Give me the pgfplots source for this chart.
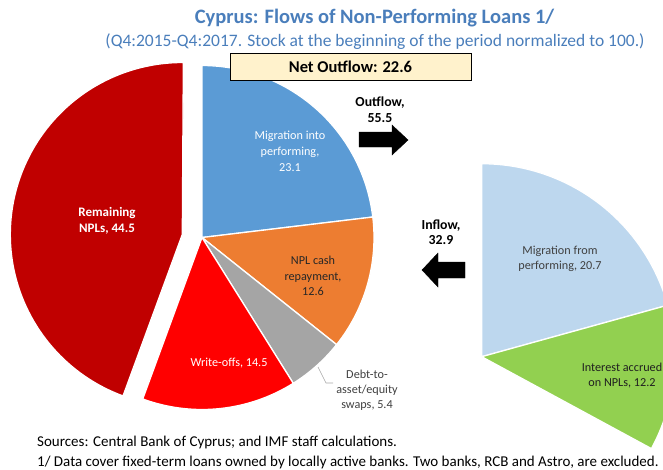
\documentclass[border=0pt]{standalone}
\usepackage{pgfplots}
\pgfplotsset{compat=1.18}
\usepackage{fontspec}
\setmainfont{Carlito}
\definecolor{titleblue}{HTML}{4A7EBB}
\definecolor{darkredslice}{HTML}{C00000}
\definecolor{brightred}{HTML}{FF0000}
\definecolor{greyslice}{HTML}{A5A5A5}
\definecolor{orangeslice}{HTML}{ED7D31}
\definecolor{blueslice}{HTML}{5B9BD5}
\definecolor{lightblueslice}{HTML}{BDD7EE}
\definecolor{greenslice}{HTML}{92D050}
\definecolor{boxfill}{HTML}{FFF2CC}
\definecolor{labelgrey}{HTML}{404040}
% #1 colour, #2 cx, #3 cy, #4 radius, #5 cumulative start (of 100), #6 value
\newcommand{\pieslice}[6]{%
  \addplot[draw=white, line width=1.3pt, line join=round, fill=#1, variable=\t, domain=0:1, samples=90]
  ({#2+#4*cos(90-3.6*(#5+#6*\t))}, {#3-#4*sin(90-3.6*(#5+#6*\t))}) -- (axis cs:#2,#3) -- cycle;
}
\begin{document}
\begin{tikzpicture}
\begin{axis}[scale only axis, width=663pt, height=469pt,
  xmin=0, xmax=663, ymin=0, ymax=469, y dir=reverse,
  hide axis, clip=true]
% left pie (outflows), values out of 100
\pieslice{blueslice}{202}{237.5}{172}{0}{23.1}
\pieslice{orangeslice}{202}{237.5}{172}{23.1}{12.6}
\pieslice{greyslice}{202}{237.5}{172}{35.7}{5.4}
\pieslice{brightred}{202}{237.5}{172}{41.1}{14.5}
\pieslice{darkredslice}{182.3}{234.5}{172}{55.6}{44.5}
% right pie (inflows)
\pieslice{lightblueslice}{481.7}{356.7}{193}{0}{20.7}
\pieslice{greenslice}{481.7}{356.7}{193}{20.7}{12.2}
% arrows
\addplot[fill=black, draw=black] coordinates {(359,132) (392,132) (392,125) (408,140) (392,155) (392,147) (359,147)} -- cycle;
\addplot[fill=black, draw=black] coordinates {(465,262) (438,262) (438,253) (422,270) (438,287) (438,278) (465,278)} -- cycle;
% leader line
\addplot[color=black!35, line width=0.6pt] coordinates {(318,367) (326,383) (333,383)};
% texts
\node[font=\bfseries\fontsize{20.5}{24}\selectfont, text=titleblue] at (axis cs:374.5,18) {Cyprus: Flows of Non-Performing Loans 1/};
\node[font=\fontsize{17.5}{20}\selectfont, text=titleblue] at (axis cs:375,42) {(Q4:2015-Q4:2017. Stock at the beginning of the period normalized to 100.)};
\node[draw=black, fill=boxfill, minimum width=241pt, minimum height=27pt, inner sep=0pt, font=\bfseries\fontsize{16.5}{18}\selectfont] at (axis cs:350.5,66.5) {Net Outflow: 22.6};
\node[align=center, font=\bfseries\fontsize{13.8}{16}\selectfont] at (axis cs:380,110) {Outflow,\\55.5};
\node[align=center, font=\bfseries\fontsize{13.8}{15.5}\selectfont] at (axis cs:441,232) {Inflow,\\32.9};
\node[align=center, text=white, font=\bfseries\fontsize{13}{15.5}\selectfont] at (axis cs:107,221) {Remaining\\NPLs, 44.5};
\node[align=center, text=white, font=\fontsize{12.2}{16}\selectfont] at (axis cs:290,151) {Migration into\\performing,\\23.1};
\node[align=center, text=labelgrey!60!black, font=\fontsize{12.2}{15.5}\selectfont] at (axis cs:313,276) {NPL cash\\repayment,\\12.6};
\node[align=center, text=white, font=\fontsize{12.2}{15}\selectfont] at (axis cs:229,363) {Write-offs, 14.5};
\node[align=center, text=labelgrey, font=\fontsize{12.2}{15}\selectfont] at (axis cs:367,390) {Debt-to-\\asset/equity\\swaps, 5.4};
\node[align=center, text=labelgrey, font=\fontsize{12.2}{14.5}\selectfont] at (axis cs:560,259) {Migration from\\performing, 20.7};
\node[align=center, text=labelgrey!50!black, font=\fontsize{12.2}{15}\selectfont] at (axis cs:622,376) {Interest accrued\\on NPLs, 12.2};
\node[anchor=base west, inner sep=0pt, font=\fontsize{15}{18}\selectfont] at (axis cs:37,446.5) {Sources: Central Bank of Cyprus; and IMF staff calculations.};
\node[anchor=base west, inner sep=0pt, font=\fontsize{15}{18}\selectfont] at (axis cs:37,466.5) {1/ Data cover fixed-term loans owned by locally active banks. Two banks, RCB and Astro, are excluded.};
\end{axis}
\pgfresetboundingbox
\path[use as bounding box] (current axis.south west) rectangle (current axis.north east);
\end{tikzpicture}
\end{document}
